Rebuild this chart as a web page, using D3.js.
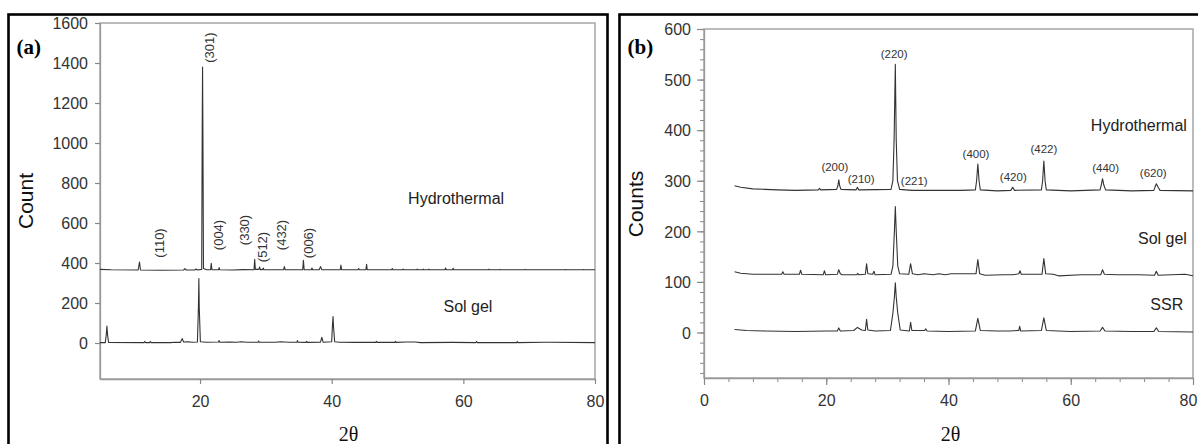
<!DOCTYPE html>
<html>
<head>
<meta charset="utf-8">
<script src="https://cdn.jsdelivr.net/npm/d3@7"></script>
<style>
  body { margin: 0; background: #fff; }
  svg { display: block; }
</style>
</head>
<body>
<div id="chart"></div>
<script>
// ---- data: [2θ, count] ----
var hydroA = [[4.8,368],[6.5,366],[10.6,365],[10.8,405],[10.95,365],[14,364],[17.5,365],[17.7,372],[17.9,365],
  [19.2,365],[19.4,370],[19.6,365],[20.25,368],[20.33,1080],[20.38,1380],[20.43,1080],[20.52,372],[21.0,366],
  [21.6,366],[21.7,398],[21.8,366],[22.8,366],[22.9,377],[23.0,366],[25,365],[26.5,367],[28.2,366],[28.3,418],
  [28.4,368],[28.95,368],[29.05,380],[29.15,367],[29.5,367],[29.6,375],[29.7,366],[32.7,366],[32.8,382],[32.95,366],
  [35.6,366],[35.7,413],[35.82,366],[36.9,366],[37.0,375],[37.1,366],[38.1,366],[38.3,382],[38.5,366],[41.3,366],
  [41.4,390],[41.5,366],[44.0,366],[44.1,372],[44.2,366],[45.2,366],[45.3,393],[45.4,366],[49.1,366],[49.2,372],
  [49.3,366],[50.75,366],[50.85,370],[50.95,366],[52.9,366],[53.0,369],[53.1,366],[53.8,366],[53.9,369],[54.0,366],
  [54.65,366],[54.75,369],[54.85,366],[57.2,366],[57.3,375],[57.4,366],[58.35,366],[58.45,374],[58.55,366],
  [63.8,366],[63.9,369],[64.0,366],[65.5,366],[65.6,368],[65.7,366],[69.3,366],[69.4,368],[69.5,366],
  [75.4,366],[75.5,367],[75.6,366],[78.2,366],[78.3,367],[78.4,366],[80,366]];

var solgelA = [[4.8,2],[5.6,2],[5.75,40],[5.85,85],[5.95,40],[6.1,3],[11.5,2],[11.6,8],[11.7,2],[12.35,2],[12.45,8],
  [12.55,2],[15.5,2],[16.2,4],[17.0,3],[17.3,22],[17.5,5],[18.2,6],[18.8,4],[19.6,5],[19.75,175],[19.82,322],
  [19.88,175],[20.05,6],[21.0,4],[22.8,5],[22.9,12],[23.0,4],[24.5,5],[25.6,4],[26.2,6],[27.2,4],[28.8,4],[28.9,10],
  [29.0,4],[31.5,4],[32.2,6],[33.5,4],[34.7,4],[34.8,12],[34.9,4],[36.1,3],[36.2,8],[36.3,3],[38.3,4],[38.5,28],
  [38.7,4],[40.0,6],[40.1,80],[40.2,132],[40.28,80],[40.45,6],[41.2,4],[43.6,3],[46.7,3],[46.8,8],[46.9,3],
  [49.6,3],[49.7,8],[49.8,3],[51.4,5],[52.7,5],[53.5,2],[58.3,3],[61.9,2],[62.0,8],[62.1,2],[68.1,2],[68.2,7],
  [68.3,2],[72.3,4],[73.3,4],[80,2]];

var hydroB = [[5.0,290],[6,287],[8,284],[10,283],[12,282],[15,281],[18.7,282],[18.9,285],[19.1,282],[21.7,283],
  [21.9,290],[22.05,302],[22.2,290],[22.4,283],[24.9,282],[25.1,287],[25.3,282],[30.6,283],[30.9,300],[31.1,380],
  [31.3,530],[31.45,380],[31.65,300],[32.0,283],[34,281],[38,281],[42,281],[44.4,282],[44.6,300],[44.8,333],
  [45.0,300],[45.2,282],[48,280],[50.2,281],[50.5,287],[50.8,281],[55.2,282],[55.4,300],[55.6,339],[55.8,300],
  [56.0,282],[60,280],[64.8,282],[65.0,292],[65.2,304],[65.4,292],[65.7,282],[70,280],[73.6,281],[73.8,288],
  [74.0,294],[74.3,287],[74.6,281],[80,280]];

var solgelB = [[5.0,120],[6,117],[8,115],[12.7,115],[12.9,120],[13.1,115],[15.6,115],[15.8,123],[16.0,115],
  [19.5,114],[19.7,122],[19.9,114],[21.8,115],[22.05,124],[22.3,116],[22.6,114],[25.0,114],[25.15,117],[25.3,114],
  [26.4,115],[26.6,136],[26.8,116],[27.6,115],[27.8,121],[28.0,114],[30.6,115],[30.9,131],[31.15,200],[31.3,249],
  [31.45,200],[31.7,131],[32.0,116],[33.5,115],[33.8,136],[34.1,116],[35,114],[36.0,116],[37.5,114],[38.4,116],
  [39.5,114],[40.4,116],[41.2,116],[42.9,116],[44.5,116],[44.8,144],[45.1,116],[46,113],[49.1,114],[50.5,114],
  [51.5,116],[51.7,122],[51.9,115],[55.3,115],[55.6,146],[55.9,116],[57.1,115],[58,112],[61.7,114],[64.9,114],
  [65.2,124],[65.5,115],[67.5,114],[69.6,114],[71.2,114],[73.7,113],[74.0,121],[74.3,113],[78.7,115],[80,112]];

var ssrB = [[5.0,6],[7,4],[10,3],[15,2],[20,3],[21.8,3],[22.05,9],[22.3,3],[24.5,4],[25.1,10],[25.8,5],[26.4,4],
  [26.6,26],[26.8,5],[28,3],[30.5,4],[30.9,38],[31.15,70],[31.3,98],[31.45,70],[31.7,38],[32.1,5],[33.6,3],
  [33.8,20],[34.0,4],[36.1,4],[36.3,7],[36.5,3],[40,2],[44.4,3],[44.8,28],[45.2,4],[48,3],[50,3],[51.5,4],
  [51.65,12],[51.8,3],[55.2,4],[55.6,29],[56.0,4],[60,2],[64.8,3],[65.2,10],[65.6,3],[70,2],[73.6,2],[74.0,9],
  [74.4,2],[80,1]];

// peak labels [text, 2θ, count]
var peaksA = [["(110)",13.8,500],["(301)",21.4,1477],["(004)",22.8,540],["(330)",26.7,565],
  ["(512)",29.4,480],["(432)",32.3,540],["(006)",36.4,500]];
var peaksB = [["(200)",21.4,320],["(210)",25.7,296],["(220)",31.1,542],["(221)",34.4,292],["(400)",44.5,344],
  ["(420)",50.6,300],["(422)",55.6,354],["(440)",65.7,317],["(620)",73.5,308]];

// sample names [text, 2θ, count]
var samplesA = [["Hydrothermal",58.9,695],["Sol gel",60.7,155]];
var samplesB = [["Hydrothermal",79.0,398],["Sol gel",79.0,174],["SSR",78.4,45]];

var yTicksA = [0,200,400,600,800,1000,1200,1400,1600];
var xTicksA = [20,40,60,80];
var yTicksB = [0,100,200,300,400,500,600];
var xTicksB = [0,20,40,60,80];

var svg = d3.select("#chart").append("svg")
    .attr("width", 1198).attr("height", 444);

var SANS = "'Liberation Sans', Arial, sans-serif",
    SERIF = "'Liberation Serif', 'Times New Roman', serif";

function drawPanel(p){
  var x = d3.scaleLinear().domain(p.xDomain).range([p.left, p.right]);
  var y = d3.scaleLinear().domain(p.yDomain).range([p.bottom, p.top]);

  // outer black frame
  svg.append("rect")
    .attr("x", p.frame[0]).attr("y", p.frame[1])
    .attr("width", p.frame[2] - p.frame[0]).attr("height", p.frame[3] - p.frame[1])
    .attr("fill", "none").attr("stroke", "#000").attr("stroke-width", 2.6);

  // plot box
  svg.append("rect")
    .attr("x", p.left).attr("y", p.top)
    .attr("width", p.right - p.left).attr("height", p.bottom - p.top)
    .attr("fill", "none").attr("stroke", "#999").attr("stroke-width", 1.3);

  var g = svg.append("g");

  if (p.xMinor){
    g.append("g").attr("transform", "translate(0," + p.bottom + ")")
      .call(d3.axisBottom(x).tickValues(p.xMinor).tickSize(4).tickFormat(""))
      .call(function(a){ a.select(".domain").remove(); a.selectAll("line").attr("stroke", "#888"); });
    g.append("g").attr("transform", "translate(" + p.left + ",0)")
      .call(d3.axisLeft(y).tickValues(p.yMinor).tickSize(4).tickFormat(""))
      .call(function(a){ a.select(".domain").remove(); a.selectAll("line").attr("stroke", "#888"); });
  }

  var fmt = d3.format("d");
  var xa = g.append("g").attr("transform", "translate(0," + p.bottom + ")")
    .call(d3.axisBottom(x).tickValues(p.xTicks).tickFormat(fmt)
      .tickSize(p.tickLen).tickPadding(p.xPad).tickSizeOuter(0));
  var ya = g.append("g").attr("transform", "translate(" + p.left + ",0)")
    .call(d3.axisLeft(y).tickValues(p.yTicks).tickFormat(fmt)
      .tickSize(p.tickLen).tickPadding(p.yPad).tickSizeOuter(0));
  [xa, ya].forEach(function(a){
    a.select(".domain").attr("stroke", "#999").attr("stroke-width", 1.3);
    a.selectAll(".tick line").attr("stroke", "#888").attr("stroke-width", 1.2);
    a.selectAll(".tick text").style("font-size", "16px").style("font-family", SANS).attr("fill", "#333");
  });
  ya.selectAll(".tick text").attr("dy", "0.36em");
  // last x label sits against the picture edge
  xa.selectAll(".tick text").filter(function(d){ return d === 80; }).attr("dx", p.lastDx);

  var line = d3.line().x(function(d){ return x(d[0]); }).y(function(d){ return y(d[1]); });
  p.series.forEach(function(s){
    g.append("path").datum(s)
      .attr("d", line)
      .attr("fill", "none").attr("stroke", "#333").attr("stroke-width", 1.1)
      .attr("stroke-linejoin", "round");
  });

  // hkl labels
  g.selectAll(".hkl").data(p.peaks).enter().append("text")
    .attr("class", "hkl")
    .attr("transform", function(d){
      return "translate(" + x(d[1]) + "," + y(d[2]) + ")" + (p.rotateLabels ? " rotate(-90)" : "");
    })
    .attr("text-anchor", "middle")
    .attr("dy", p.rotateLabels ? "0.36em" : "0")
    .style("font-family", SANS).style("font-size", p.peakFont + "px")
    .attr("fill", "#333")
    .text(function(d){ return d[0]; });

  g.selectAll(".sample").data(p.samples).enter().append("text")
    .attr("x", function(d){ return x(d[1]); })
    .attr("y", function(d){ return y(d[2]); })
    .attr("text-anchor", p.sampleAnchor)
    .style("font-family", SANS).style("font-size", "16px")
    .attr("fill", "#222")
    .text(function(d){ return d[0]; });

  // axis titles
  svg.append("text")
    .attr("transform", "translate(" + p.yTitleX + "," + p.yTitleY + ") rotate(-90)")
    .attr("text-anchor", "middle")
    .style("font-family", SANS).style("font-size", "21px").attr("fill", "#111")
    .text(p.yTitle);
  svg.append("text")
    .attr("x", (p.left + p.right) / 2 + p.xTitleShift).attr("y", 441)
    .attr("text-anchor", "middle")
    .style("font-family", SERIF).style("font-size", "20px").attr("fill", "#111")
    .text("2θ");

  svg.append("text")
    .attr("x", p.frame[0] + 8).attr("y", 54)
    .style("font-family", SERIF).style("font-size", "21px").style("font-weight", "bold")
    .attr("fill", "#000")
    .text(p.tag);
}

drawPanel({
  tag: "(a)", frame: [8.5, 14.5, 607.5, 470],
  left: 100, right: 595, top: 23, bottom: 379,
  xDomain: [4.8, 80], yDomain: [-180, 1600],
  xTicks: xTicksA, yTicks: yTicksA, tickLen: 5, xPad: 12, yPad: 7, lastDx: 0,
  series: [hydroA, solgelA], peaks: peaksA, rotateLabels: true, peakFont: 13,
  samples: samplesA, sampleAnchor: "middle",
  yTitle: "Count", yTitleX: 33, yTitleY: 201, xTitleShift: 1
});

drawPanel({
  tag: "(b)", frame: [619.5, 14.5, 1200, 470],
  left: 704, right: 1193, top: 29, bottom: 378,
  xDomain: [0, 80], yDomain: [-90, 600],
  xTicks: xTicksB, yTicks: yTicksB, tickLen: 7, xPad: 10, yPad: 6, lastDx: -5,
  xMinor: d3.range(0, 81, 4), yMinor: d3.range(-80, 601, 20),
  series: [hydroB, solgelB, ssrB], peaks: peaksB, rotateLabels: false, peakFont: 11.5,
  samples: samplesB, sampleAnchor: "end",
  yTitle: "Counts", yTitleX: 643, yTitleY: 204, xTitleShift: 2
});
</script>
</body>
</html>
